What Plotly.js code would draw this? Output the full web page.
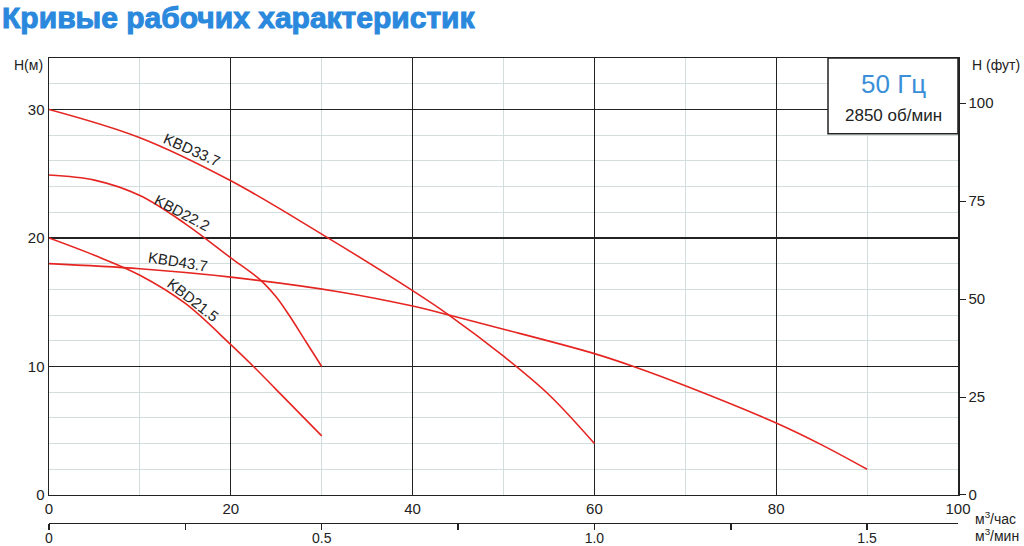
<!DOCTYPE html>
<html>
<head>
<meta charset="utf-8">
<script src="https://cdn.plot.ly/plotly-3.0.1.min.js"></script>
<style>
html,body{margin:0;padding:0;background:#fff;}
#chart{width:1024px;height:546px;}
#chart .gtitle{stroke:#2a88dd;stroke-width:1px;}
</style>
</head>
<body>
<div id="chart"></div>
<script>
// ---- data (flow in m³/h, head in m) ----
const q337 = [0, 10, 20, 30, 40, 44, 50, 55, 60];
const h337 = [30, 27.8, 24.45, 20.3, 15.9, 14.0, 10.8, 7.8, 4.0];

const q222 = [0, 5, 10, 15, 20, 23.3, 25, 26.4, 28.2, 30];
const h222 = [24.9, 24.5, 23.3, 21.1, 18.45, 16.7, 15.4, 14.0, 12.0, 10.0];

const q437 = [0, 10, 20, 32, 40, 44, 50, 60, 64.3, 70, 80, 85, 90];
const h437 = [18.0, 17.6, 16.95, 15.8, 14.7, 14.0, 12.9, 11.0, 10.0, 8.5, 5.6, 3.9, 2.0];

const q215 = [0, 5, 10, 15, 20, 22.5, 25, 30];
const h215 = [20.0, 18.65, 17.1, 14.9, 11.7, 10.0, 8.2, 4.6];

const curveNames = ['KBD33.7', 'KBD22.2', 'KBD43.7', 'KBD21.5'];
const flowTicks = [0, 20, 40, 60, 80, 100];
const headTicks = [0, 10, 20, 30];
const feetTicks = [0, 25, 50, 75, 100];
const minTicks = [0, 0.25, 0.5, 0.75, 1.0, 1.25, 1.5];
const minTickText = ['0', '', '0.5', '', '1.0', '', '1.5'];

const titleText = 'Кривые рабочих характеристик';
const hzText = '50 Гц';
const rpmText = '2850 об/мин';

// ---- drawing ----
const FONT = 'Liberation Sans, Arial, sans-serif';
const RED = '#e52521';
const DARK = '#222';
const MINOR = '#d2dddd';
const yMax = 34;

function curve(x, y, name) {
  return {x: x, y: y, name: name, type: 'scatter', mode: 'lines',
    line: {color: RED, width: 1.6, shape: 'spline', smoothing: 1},
    hoverinfo: 'skip', showlegend: false};
}

const traces = [
  curve(q337, h337, curveNames[0]),
  curve(q222, h222, curveNames[1]),
  curve(q437, h437, curveNames[2]),
  curve(q215, h215, curveNames[3]),
  {x: [0], y: [0], xaxis: 'x2', yaxis: 'y2', mode: 'markers', marker: {opacity: 0}, hoverinfo: 'skip', showlegend: false}
];

const labelPos = [
  {x: 15.7, y: 26.9, a: 24},
  {x: 14.6, y: 21.95, a: 28},
  {x: 14.2, y: 18.2, a: 9},
  {x: 15.8, y: 15.2, a: 38}
];

const annotations = curveNames.map((n, i) => ({
  text: n, x: labelPos[i].x, y: labelPos[i].y, xref: 'x', yref: 'y',
  xanchor: 'center', yanchor: 'middle',
  textangle: labelPos[i].a, showarrow: false,
  font: {family: FONT, size: 15, color: DARK}
}));

annotations.push(
  {text: hzText, x: 92.85, y: 32.0, xref: 'x', yref: 'y', xanchor: 'center', yanchor: 'middle', showarrow: false,
   font: {family: FONT, size: 26, color: '#3b8fd9'}},
  {text: rpmText, x: 92.85, y: 29.55, xref: 'x', yref: 'y', xanchor: 'center', yanchor: 'middle', showarrow: false,
   font: {family: FONT, size: 17, color: DARK}},
  {text: 'H(м)', x: -0.004, y: 0.985, xref: 'paper', yref: 'paper', xanchor: 'right', yanchor: 'middle', showarrow: false,
   font: {family: FONT, size: 14, color: DARK}},
  {text: 'H (фут)', x: 1.042, y: 0.985, xref: 'paper', yref: 'paper', xanchor: 'center', yanchor: 'middle', showarrow: false,
   font: {family: FONT, size: 14, color: DARK}},
  {text: 'м<sup>3</sup>/час', x: 1.016, y: 0.038, xref: 'paper', yref: 'paper', xanchor: 'left', yanchor: 'middle', showarrow: false,
   font: {family: FONT, size: 14, color: DARK}},
  {text: 'м<sup>3</sup>/мин', x: 1.016, y: 0.002, xref: 'paper', yref: 'paper', xanchor: 'left', yanchor: 'middle', showarrow: false,
   font: {family: FONT, size: 14, color: DARK}}
);

const tickFont = {family: FONT, size: 15, color: DARK};

const layout = {
  width: 1024, height: 546,
  margin: {l: 49, r: 66, t: 58, b: 10},
  paper_bgcolor: '#fff', plot_bgcolor: '#fff',
  title: {text: titleText, x: 0.002, xref: 'container', xanchor: 'left', y: 0.968, yref: 'container', yanchor: 'middle',
    font: {family: FONT, size: 30, color: '#2a88dd', weight: 'bold'}},
  xaxis: {range: [0, 100], tickvals: flowTicks, ticks: '', showgrid: true, gridcolor: DARK, gridwidth: 1.3,
    minor: {dtick: 10, showgrid: true, gridcolor: MINOR, gridwidth: 1, ticks: ''},
    showline: true, linecolor: DARK, linewidth: 1.5, mirror: true, zeroline: false,
    tickfont: tickFont, fixedrange: true},
  yaxis: {range: [0, yMax], domain: [0.0858, 1], tickvals: headTicks, ticks: '', showgrid: true, gridcolor: DARK, gridwidth: 1.3,
    minor: {dtick: 2, showgrid: true, gridcolor: MINOR, gridwidth: 1, ticks: ''},
    showline: true, linecolor: DARK, linewidth: 1.5, zeroline: false, tickfont: tickFont, fixedrange: true},
  yaxis2: {range: [0, yMax * 3.28084], overlaying: 'y', side: 'right', tickvals: feetTicks,
    ticks: 'outside', ticklen: 6, tickcolor: DARK, showgrid: false, showline: true, linecolor: DARK, linewidth: 1.5,
    zeroline: false, tickfont: tickFont},
  xaxis2: {range: [0, 100 / 60], overlaying: 'x', anchor: 'free', position: 0.0272, side: 'bottom',
    tickvals: minTicks, ticktext: minTickText, ticks: 'outside', ticklen: 6, tickcolor: DARK, tickwidth: 1.5,
    ticklabelstandoff: -4,
    showgrid: false, showline: true, linecolor: DARK, linewidth: 1.5, zeroline: false,
    tickfont: {family: FONT, size: 14, color: DARK}},
  shapes: [{type: 'rect', xref: 'x', yref: 'y', x0: 85.7, x1: 100, y0: 28.1, y1: yMax,
    fillcolor: '#fff', line: {color: DARK, width: 1.5}, layer: 'above'}],
  annotations: annotations
};

Plotly.newPlot('chart', traces, layout, {staticPlot: true, displayModeBar: false});
</script>
</body>
</html>
